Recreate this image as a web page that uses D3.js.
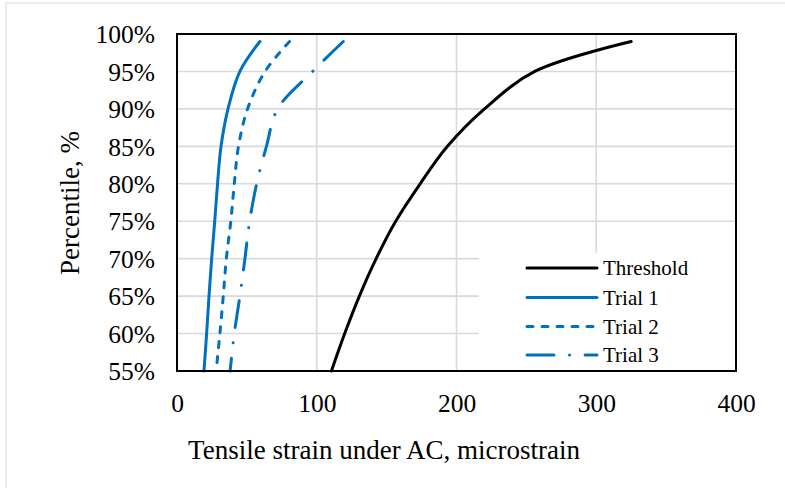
<!DOCTYPE html>
<html>
<head>
<meta charset="utf-8">
<script src="https://cdn.jsdelivr.net/npm/d3@7"></script>
<style>
  html, body { margin: 0; padding: 0; background: #fff; }
  svg { display: block; }
  text { font-family: "Liberation Serif", "Times New Roman", serif; fill: #000; }
</style>
</head>
<body>
<svg id="chart" width="785" height="488"></svg>
<script>
// Cumulative percentile of tensile strain (microstrain) under the AC layer
const percentiles = [55, 60, 65, 70, 75, 80, 85, 90, 95, 99];
const threshold = [110.5, 120, 130.5, 142.5, 156.5, 174, 193.5, 220, 256, 325];
const trial1 = [19.3, 21.2, 22.9, 24.8, 27, 29, 31.5, 36.5, 45, 59.3];
const trial2 = [28, 30.7, 33.1, 35.3, 38.5, 41, 44, 50.5, 63, 80.5];
const trial3 = [38, 41, 45, 48.6, 52, 57, 64, 72, 97, 119];
const seriesNames = ["Threshold", "Trial 1", "Trial 2", "Trial 3"];
const xTicks = [0, 100, 200, 300, 400];
const yTicks = [55, 60, 65, 70, 75, 80, 85, 90, 95, 100];

// dash patterns: [dasharray, length of the first dash, period]
const dashed = { array: [6, 9], first: 6 };
const dashDot = { array: [27, 15.5, 0.1, 15.5], first: 27 };

const series = [
  { name: seriesNames[0], values: threshold, color: "#000000", dash: null },
  { name: seriesNames[1], values: trial1, color: "#0070C0", dash: null },
  { name: seriesNames[2], values: trial2, color: "#0070C0", dash: dashed },
  { name: seriesNames[3], values: trial3, color: "#0070C0", dash: dashDot }
];

const svg = d3.select("#chart");
const W = 785, H = 488;
const plot = { left: 177, right: 736, top: 34, bottom: 371 };

const x = d3.scaleLinear().domain([0, 400]).range([plot.left, plot.right]);
const y = d3.scaleLinear().domain([55, 100]).range([plot.bottom, plot.top]);

svg.append("rect").attr("width", W).attr("height", H).attr("fill", "#fff");

// faint outer frame
svg.append("path")
  .attr("d", `M6,${H} L6,3 L${W},3`)
  .attr("fill", "none").attr("stroke", "#ebebeb").attr("stroke-width", 2);

// gridlines
const grid = svg.append("g");
grid.selectAll("line.v").data(xTicks.slice(1, -1)).join("line")
  .attr("x1", d => x(d)).attr("x2", d => x(d))
  .attr("y1", plot.top).attr("y2", plot.bottom)
  .attr("stroke", "#d9d9d9").attr("stroke-width", 1.6);
grid.selectAll("line.h").data(yTicks.slice(1, -1)).join("line")
  .attr("x1", plot.left).attr("x2", plot.right)
  .attr("y1", d => y(d)).attr("y2", d => y(d))
  .attr("stroke", "#d9d9d9").attr("stroke-width", 1.6);

// legend background hides the grid beneath it
const legend = { x: 479, y: 253, w: 256, h: 117 };
svg.append("rect")
  .attr("x", legend.x).attr("y", legend.y)
  .attr("width", legend.w).attr("height", legend.h)
  .attr("fill", "#fff");

// axis tick labels
const xAxis = d3.axisBottom(x).tickValues(xTicks).tickSize(0).tickPadding(0)
  .tickFormat(d3.format("d"));
const gx = svg.append("g").attr("transform", `translate(0,${plot.bottom})`).call(xAxis);
gx.select(".domain").remove();
gx.selectAll("text")
  .attr("y", 41).attr("dy", null)
  .style("font-family", "'Liberation Serif', serif").style("font-size", "25.5px").attr("fill", "#000");

const yAxis = d3.axisLeft(y).tickValues(yTicks).tickSize(0).tickPadding(0)
  .tickFormat(d => d + "%");
const gy = svg.append("g").attr("transform", `translate(155,0)`).call(yAxis);
gy.select(".domain").remove();
gy.selectAll("text")
  .attr("x", 0).attr("dy", "0.34em")
  .style("font-family", "'Liberation Serif', serif").style("font-size", "25.5px").attr("fill", "#000");

// series lines
const line = d3.line()
  .x(d => x(d.v))
  .y(d => y(d.p))
  .curve(d3.curveCatmullRom.alpha(0.5));

svg.append("g").selectAll("path").data(series).join("path")
  .attr("d", s => line(s.values.map((v, i) => ({ v, p: percentiles[i] }))))
  .attr("fill", "none")
  .attr("stroke", s => s.color)
  .attr("stroke-width", 3)
  .attr("stroke-linecap", "round")
  .attr("stroke-linejoin", "round")
  .attr("stroke-dasharray", s => s.dash ? s.dash.array.join(",") : null)
  .each(function (s) {
    if (!s.dash) return;
    // shift the pattern so the top end of the line finishes on a full dash
    const L = this.getTotalLength();
    const period = d3.sum(s.dash.array);
    const off = ((s.dash.first - L) % period + period) % period;
    d3.select(this).attr("stroke-dashoffset", off);
  });

// plot frame
svg.append("rect")
  .attr("x", plot.left).attr("y", plot.top)
  .attr("width", plot.right - plot.left).attr("height", plot.bottom - plot.top)
  .attr("fill", "none").attr("stroke", "#000").attr("stroke-width", 2);

// legend entries
const lg = svg.append("g");
const rowY = [268, 297.5, 326.5, 355];
series.forEach((s, i) => {
  lg.append("line")
    .attr("x1", 527).attr("x2", 597)
    .attr("y1", rowY[i]).attr("y2", rowY[i])
    .attr("stroke", s.color).attr("stroke-width", 3)
    .attr("stroke-linecap", "round")
    .attr("stroke-dasharray", s.dash ? s.dash.array.join(",") : null);
  lg.append("text")
    .attr("x", 603).attr("y", rowY[i]).attr("dy", "0.34em")
    .style("font-size", "21px")
    .text(s.name);
});

// axis titles
svg.append("text")
  .attr("x", 384).attr("y", 459)
  .attr("text-anchor", "middle")
  .style("font-size", "27px")
  .text("Tensile strain under AC, microstrain");

svg.append("text")
  .attr("transform", "translate(79,203) rotate(-90)")
  .attr("text-anchor", "middle")
  .style("font-size", "27px")
  .text("Percentile, %");
</script>
</body>
</html>
